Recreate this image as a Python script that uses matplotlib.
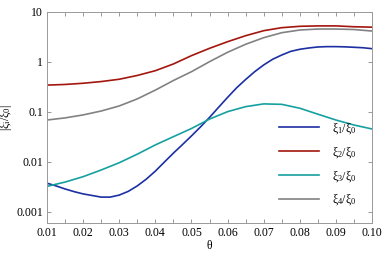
import numpy as np
import matplotlib
matplotlib.use('Agg')
import matplotlib.pyplot as plt
from matplotlib.ticker import MultipleLocator, FixedLocator, NullLocator

plt.rcParams['font.family'] = ['Liberation Serif', 'DejaVu Serif']
plt.rcParams['mathtext.fontset'] = 'custom'
plt.rcParams['mathtext.rm'] = 'Liberation Serif'
plt.rcParams['mathtext.it'] = 'Liberation Serif'

# ---- data ----
theta = [0.010, 0.015, 0.020, 0.025, 0.030, 0.035, 0.040, 0.045, 0.050, 0.055,
         0.060, 0.065, 0.070, 0.075, 0.080, 0.085, 0.090, 0.095, 0.100]

# xi1 bends sharply, so it was read on a finer grid
theta1 = [0.0100, 0.0125, 0.0150, 0.0175, 0.0200, 0.0225, 0.0250, 0.0275, 0.0300,
          0.0325, 0.0350, 0.0375, 0.0400, 0.0425, 0.0450, 0.0475, 0.0500, 0.0525,
          0.0550, 0.0575, 0.0600, 0.0625, 0.0650, 0.0675, 0.0700, 0.0725, 0.0750,
          0.0775, 0.0800, 0.0825, 0.0850, 0.0875, 0.0900, 0.0925, 0.0950, 0.0975,
          0.1000]
xi1 = [0.0037, 0.00327, 0.00284, 0.00251, 0.00226, 0.0021, 0.00195, 0.00195, 0.00214,
       0.00254, 0.00327, 0.00447, 0.00646, 0.0098, 0.0148, 0.0219, 0.0327, 0.0495,
       0.0767, 0.122, 0.193, 0.30, 0.44, 0.63, 0.86, 1.12, 1.36,
       1.61, 1.77, 1.88, 1.97, 2.0, 2.0, 1.98, 1.94, 1.9,
       1.82]

xi2 = [0.34, 0.35, 0.37, 0.40, 0.445, 0.53, 0.66, 0.90, 1.32, 1.85,
       2.51, 3.31, 4.17, 4.79, 5.1, 5.2, 5.2, 5.0, 4.9]
xi3 = [0.0032, 0.0039, 0.0050, 0.0068, 0.0095, 0.0141, 0.0216, 0.0316, 0.046, 0.071,
       0.10, 0.126, 0.143, 0.14, 0.117, 0.089, 0.068, 0.054, 0.045]
xi4 = [0.068, 0.075, 0.086, 0.103, 0.13, 0.18, 0.27, 0.42, 0.63, 1.0,
       1.54, 2.23, 3.02, 3.8, 4.3, 4.5, 4.5, 4.4, 4.1]

xs = [theta1, theta, theta, theta]
series = [xi1, xi2, xi3, xi4]
labels = [r'ξ$_1$/ξ$_0$', r'ξ$_2$/ξ$_0$', r'ξ$_3$/ξ$_0$', r'ξ$_4$/ξ$_0$']
colors = ['#1c2fa3', '#a3160d', '#16a0a0', '#828282']

yticks = [0.001, 0.01, 0.1, 1, 10]
yticklabels = ['0.001', '0.01', '0.1', '1', '10']
xticks = [0.01, 0.02, 0.03, 0.04, 0.05, 0.06, 0.07, 0.08, 0.09, 0.10]

fig = plt.figure(figsize=(3.9, 2.6), dpi=100)
ax = fig.add_axes([0.1205, 0.1435, 0.8335, 0.8115])

for x, y, lab, c in zip(xs, series, labels, colors):
    ax.plot(x, y, color=c, lw=1.2, label=lab)

ax.set_yscale('log')
ax.set_xlim(0.01, 0.10)
ax.set_ylim(6.0e-4, 10)
ax.yaxis.set_major_locator(FixedLocator(yticks))
ax.set_yticklabels(yticklabels)
ax.yaxis.set_minor_locator(NullLocator())
ax.set_xticks(xticks)
ax.set_xticklabels(['%.2f' % v for v in xticks])
ax.xaxis.set_minor_locator(MultipleLocator(0.005))

ax.tick_params(which='both', direction='in', top=True, right=True,
               length=3, width=0.6, color='#888888', labelsize=8.5, pad=3)
for s in ax.spines.values():
    s.set_color('#999999')
    s.set_linewidth(0.7)

ax.set_xlabel('θ', fontsize=8.5, labelpad=1)
ax.set_ylabel(r'|ξ$_i$/ξ$_0$|', fontsize=8.5)
ax.yaxis.set_label_coords(-0.1, 0.5)

ax.legend(loc='lower right', frameon=False, fontsize=8.5, handlelength=3.4,
          handletextpad=1.1, labelspacing=0.75, borderaxespad=0.9)

fig.savefig('out.png', dpi=100)
